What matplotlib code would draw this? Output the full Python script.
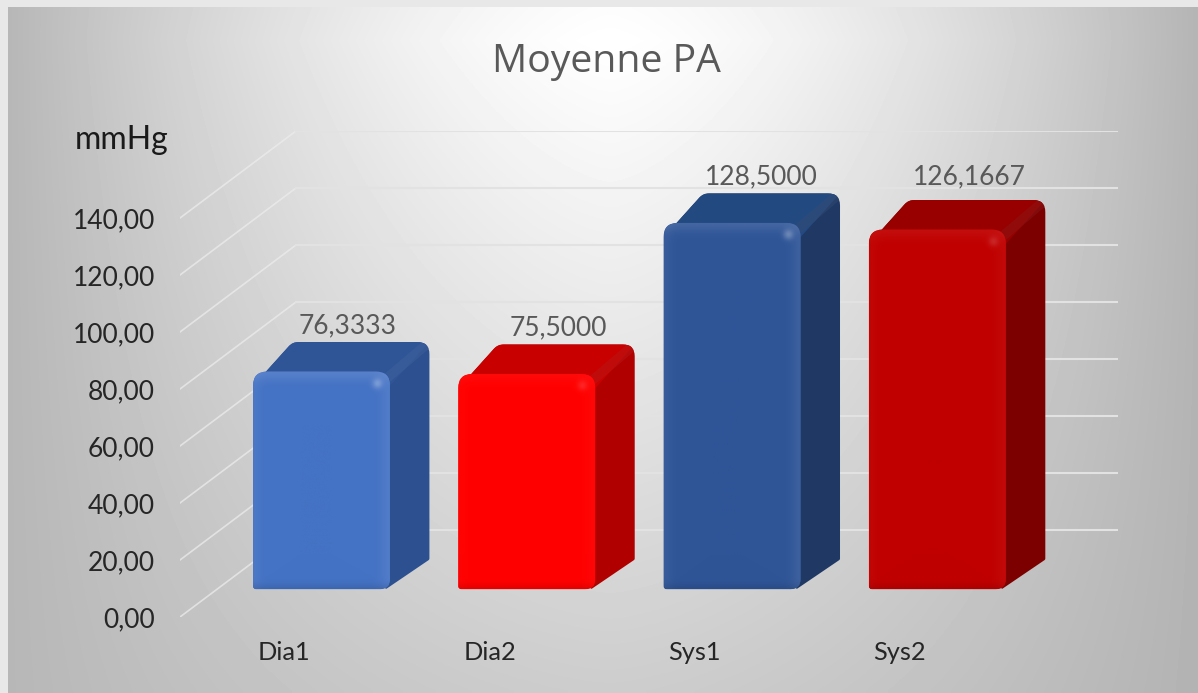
import numpy as np
import matplotlib
matplotlib.use('Agg')
import matplotlib.pyplot as plt
from matplotlib.path import Path
from matplotlib.patches import PathPatch

plt.rcParams['font.family'] = ['Lato', 'DejaVu Sans']

# chart values
categories = ['Dia1', 'Dia2', 'Sys1', 'Sys2']
values = [76.3333, 75.5, 128.5, 126.1667]
value_labels = ['76,3333', '75,5000', '128,5000', '126,1667']
y_ticks = [0, 20, 40, 60, 80, 100, 120, 140]
y_tick_labels = ['0,00', '20,00', '40,00', '60,00', '80,00', '100,00', '120,00', '140,00']
label_positions = [0.205, 1.205, 2.205, 3.2]
label_lift = [0, 0, 0, 2.3]
label_shift = [-5, 0, -2, 0]

# face colours: front, top, side, bevel strength
bar_colors = [
    ('#4472c4', '#2f5597', '#2c5090', 1.0),
    ('#ff0000', '#c80000', '#b00000', 0.35),
    ('#2f5597', '#234a80', '#1f3864', 1.0),
    ('#c00000', '#980000', '#7c0000', 0.5),
]

# oblique depth of the floor, bars sit between d0 and d1
px_x = 205.3
px_y = 2.85
depth_x = 116 / px_x
depth_y = 87 / px_y
d0 = 0.32
d1 = 0.66
bar_w = 0.667


def project(x, v, d):
    return x + d * depth_x, v + d * depth_y


def rounded(points, radii):
    # polygon with rounded corners, radius in pixels
    pts = np.array(points) * [px_x, px_y]
    n = len(pts)
    verts, codes = [], []
    for i in range(n):
        p, prev, nxt = pts[i], pts[i - 1], pts[(i + 1) % n]
        r = radii[i]
        a = p + (prev - p) / np.linalg.norm(prev - p) * r
        b = p + (nxt - p) / np.linalg.norm(nxt - p) * r
        verts += [a, p, b]
        codes += [Path.MOVETO if i == 0 else Path.LINETO, Path.CURVE3, Path.CURVE3]
    verts.append(verts[0])
    codes.append(Path.CLOSEPOLY)
    return Path(np.array(verts) / [px_x, px_y], codes)


def mix(color, other, t):
    c = np.array(matplotlib.colors.to_rgb(color))
    o = np.array(matplotlib.colors.to_rgb(other))
    return c + (o - c) * t


def draw_background(fig):
    bg = fig.add_axes([0, 0, 1, 1], zorder=-1)
    yy, xx = np.mgrid[0:693, 0:1198]
    a = np.clip(np.abs(xx - 610) / 600, 0, 1) ** 1.5
    b = np.clip(np.abs(yy - 40) / 650, 0, 1) * 0.7
    grey = 255 - 72 * (1 - (1 - a) * (1 - b)) - 5 * (xx > 610) * a
    grey[:7, :] = 232
    grey[:, :8] = 232
    bg.imshow(grey, cmap='gray', vmin=0, vmax=255, aspect='auto')
    bg.axis('off')


def draw_walls(ax):
    for t in y_ticks:
        x_a, y_a = project(-0.175, t, 0)
        x_b, y_b = project(-0.175, t, 1)
        ax.plot([x_a, x_b], [y_a, y_b], color='#ececec', lw=1.2, alpha=0.75, zorder=1)
        ax.plot([x_b, 4.394], [y_b, y_b], color='#e2e2e2', lw=1.5, zorder=1)


def draw_bar(ax, i, value, colors):
    front, top, side, bevel = colors
    left, right = i, i + bar_w
    fx0, fy0 = project(left, 0, d0)
    fx1, fy1 = project(right, value, d0)
    bx0, by0 = project(left, 0, d1)
    bx1, by1 = project(right, value, d1)
    tlx, tly = project(left, value, d1)

    # whole outline in the side colour, the top face is cut out of it
    outline = rounded([(fx0, fy1 - 5), (tlx, tly), (bx1, by1), (bx1, by0), (fx1 - 0.02, fy0)],
                      [3, 6, 12, 1, 1])
    body = PathPatch(outline, fc=side, ec='none', zorder=3)
    ax.add_patch(body)
    top_poly = ax.fill([fx0, tlx, bx1, fx1], [fy1 - 5, tly, by1, fy1 - 5], color=top, lw=0, zorder=3.1)[0]
    top_poly.set_clip_path(body)
    ridge = ax.plot([fx1 - 0.01, bx1], [fy1 - 2, by1], color=mix(side, '#ffffff', 0.10),
                    lw=7, alpha=0.45, zorder=3.2, solid_capstyle='round')[0]
    ridge.set_clip_path(body)

    # front face with bevel shading
    face = rounded([(fx0, fy0), (fx0, fy1), (fx1, fy1), (fx1, fy0)], [3, 14, 14, 10])
    patch = PathPatch(face, fc=front, ec='none', zorder=4)
    ax.add_patch(patch)
    h = int((fy1 - fy0) * px_y)
    w = int(bar_w * px_x)
    yy, xx = np.mgrid[0:h, 0:w]
    shade = np.zeros((h, w))
    shade += 0.10 * np.exp(-(yy / 9.0) ** 2)
    shade += 0.07 * np.exp(-((w - xx) / 10.0) ** 2)
    shade += 0.04 * np.exp(-(xx / 8.0) ** 2)
    spot = 0.26 * np.exp(-(((xx - (w - 13)) / 5.0) ** 2 + ((yy - 12) / 5.0) ** 2))
    dark = 0.10 * np.exp(-((h - yy) / 6.0) ** 2)
    base = np.array(matplotlib.colors.to_rgb(front))
    img = base + (1 - base) * (shade * bevel + spot * max(bevel, 0.5))[..., None]
    img = img * (1 - dark)[..., None]
    im = ax.imshow(np.clip(img, 0, 1), extent=(fx0, fx1, fy0, fy1), origin='upper',
                   aspect='auto', zorder=4.1)
    im.set_clip_path(patch)


def main():
    fig = plt.figure(figsize=(11.98, 6.93), dpi=100)
    draw_background(fig)

    ax = fig.add_axes([180 / 1198, (693 - 617) / 693, (1118 - 180) / 1198, (617 - 131) / 693])
    ax.patch.set_alpha(0)
    for s in ax.spines.values():
        s.set_visible(False)

    draw_walls(ax)

    for i, value in enumerate(values):
        draw_bar(ax, i, value, bar_colors[i])
        lx, ly = project(i + bar_w / 2, value, d1)
        ax.annotate(value_labels[i], (lx + (label_shift[i] - 8) / px_x, ly + label_lift[i]), xytext=(0, 3),
                    textcoords='offset points', ha='center', va='bottom',
                    fontsize=19, color='#595959', zorder=6, annotation_clip=False)

    ax.set_xlim(-0.175, 4.394)
    ax.set_ylim(0, (617 - 131) / px_y)
    ax.set_yticks(y_ticks, y_tick_labels, fontsize=19, color='#262626')
    ax.set_xticks(label_positions, categories, fontsize=18.3, color='#262626', ha='left')
    ax.tick_params(axis='y', length=0, pad=18)
    ax.tick_params(axis='x', length=0, pad=17)

    fig.text(606 / 1198, 1 - 62 / 693, 'Moyenne PA', ha='center', va='center',
             fontsize=28.2, color='#595959', family=['Open Sans', 'DejaVu Sans'])
    fig.text(75 / 1198, 1 - 140 / 693, 'mmHg', ha='left', va='center',
             fontsize=23, color='#1a1a1a')

    fig.savefig('out.png', dpi=100)


if __name__ == "__main__":
    main()
